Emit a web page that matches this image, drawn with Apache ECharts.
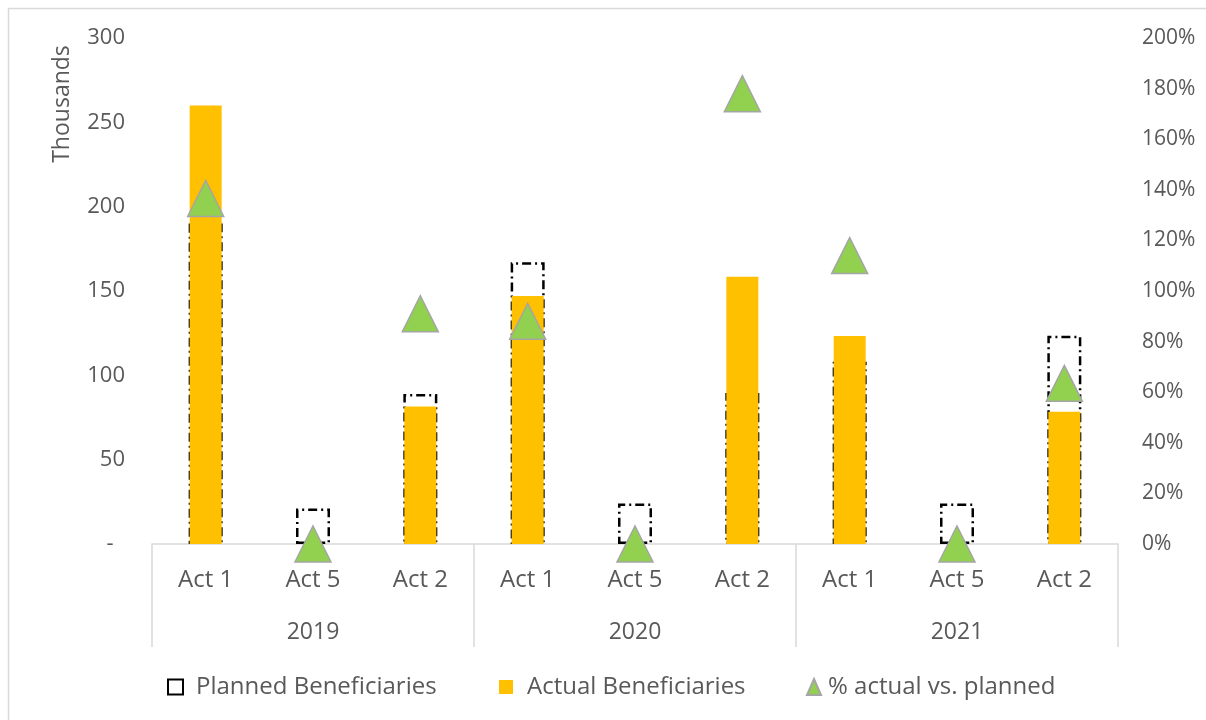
<!DOCTYPE html>
<html>
<head>
<meta charset="utf-8">
<title>Beneficiaries by activity</title>
<script src="https://cdn.jsdelivr.net/npm/echarts@6/dist/echarts.min.js"></script>
<style>
  html, body { margin: 0; padding: 0; background: #ffffff; }
  #chart { width: 1206px; height: 720px; }
</style>
</head>
<body>
<div id="chart"></div>
<script>
// Activities per year (inner axis level) and years (outer axis level)
const activities = ['Act 1', 'Act 5', 'Act 2', 'Act 1', 'Act 5', 'Act 2', 'Act 1', 'Act 5', 'Act 2'];
const years = ['2019', '2020', '2021'];

// Beneficiaries, in thousands
const planned = [190, 21, 89, 167, 24, 89.5, 108, 24, 123.5];
const actual = [260, 0, 81.5, 147, 0, 158.5, 123.3, 0, 78.4];

// Actual as a share of planned, in percent
const pctActualVsPlanned = [136.6, 0, 91, 88, 0, 178, 114, 0, 63.5];

// Axis ticks
const leftTicks = { min: 0, max: 300, step: 50 };
const rightTicks = { min: 0, max: 200, step: 20 };

const FONT = '"Open Sans", "Noto Sans", sans-serif';
const TEXT = '#595959';
const RULE = '#D9D9D9';

const chart = echarts.init(document.getElementById('chart'), null, { renderer: 'canvas' });

const dashDot = [9, 4, 2, 4];

chart.setOption({
  backgroundColor: '#ffffff',
  animation: false,
  textStyle: { fontFamily: FONT, color: TEXT },
  grid: { left: 152, right: 88, top: 38, bottom: 176, outerBoundsMode: 'none' },
  graphic: [
    {
      type: 'rect',
      shape: { x: 8.5, y: 8.5, width: 1300, height: 800 },
      style: { fill: 'none', stroke: RULE, lineWidth: 1.5 },
      silent: true
    },
    {
      type: 'text',
      x: 62, y: 104,
      rotation: Math.PI / 2,
      style: {
        text: 'Thousands', fill: TEXT, font: '23px ' + FONT,
        align: 'center', verticalAlign: 'middle'
      }
    }
  ],
  legend: [
    {
      left: 167, top: 675, padding: 0, itemWidth: 15, itemHeight: 15,
      data: [{ name: 'Planned Beneficiaries', icon: 'rect' }],
      textStyle: { fontFamily: FONT, fontSize: 24, color: TEXT, padding: [0, 0, 0, 8] }
    },
    {
      left: 499, top: 675, padding: 0, itemWidth: 14, itemHeight: 14,
      data: [{ name: 'Actual Beneficiaries', icon: 'rect' }],
      textStyle: { fontFamily: FONT, fontSize: 24, color: TEXT, padding: [0, 0, 0, 9] }
    },
    {
      left: 806, top: 675, padding: 0, itemWidth: 14, itemHeight: 16,
      data: [{ name: '% actual vs. planned', icon: 'triangle' }],
      textStyle: { fontFamily: FONT, fontSize: 24, color: TEXT, padding: [0, 0, 0, 2] }
    }
  ],
  xAxis: [
    {
      type: 'category',
      data: activities,
      position: 'bottom',
      axisLine: { show: true, lineStyle: { color: RULE, width: 1.5 } },
      axisTick: { show: false },
      axisLabel: { margin: 24, fontFamily: FONT, fontSize: 24, color: TEXT, interval: 0 },
      splitLine: { show: false }
    },
    {
      type: 'category',
      data: years,
      position: 'bottom',
      axisLine: { show: false, onZero: false },
      axisTick: { show: true, length: 103, interval: 0, lineStyle: { color: RULE, width: 1.5 } },
      axisLabel: { margin: 77, fontFamily: FONT, fontSize: 23, color: TEXT, interval: 0 },
      splitLine: { show: false }
    },
    {
      // carries the planned outlines so they centre on each category on their own
      type: 'category',
      data: activities,
      show: false
    }
  ],
  yAxis: [
    {
      type: 'value',
      min: leftTicks.min, max: leftTicks.max, interval: leftTicks.step,
      position: 'left',
      axisLine: { show: false },
      axisTick: { show: false },
      splitLine: { show: false },
      axisLabel: {
        margin: 27, fontFamily: FONT, fontSize: 22, color: TEXT,
        formatter: v => (v === 0 ? '-  ' : String(v))
      }
    },
    {
      type: 'value',
      min: rightTicks.min, max: rightTicks.max, interval: rightTicks.step,
      position: 'right',
      axisLine: { show: false },
      axisTick: { show: false },
      splitLine: { show: false },
      axisLabel: {
        margin: 24, fontFamily: FONT, fontSize: 21, color: TEXT,
        formatter: '{value}%'
      }
    }
  ],
  series: [
    {
      name: 'Planned Beneficiaries',
      type: 'bar',
      xAxisIndex: 2, yAxisIndex: 0,
      data: planned,
      barWidth: 34,
      z: 2,
      itemStyle: {
        color: 'rgba(255,255,255,0)',
        borderColor: '#000000',
        borderWidth: 2.5,
        borderType: dashDot
      }
    },
    {
      name: 'Actual Beneficiaries',
      type: 'bar',
      xAxisIndex: 0, yAxisIndex: 0,
      data: actual,
      barWidth: 32,
      z: 3,
      itemStyle: { color: '#FFC000' }
    },
    {
      name: '% actual vs. planned',
      type: 'scatter',
      xAxisIndex: 0, yAxisIndex: 1,
      data: pctActualVsPlanned,
      symbol: 'triangle',
      symbolSize: 36,
      z: 5,
      itemStyle: { color: '#92D050', borderColor: '#A5A5A5', borderWidth: 1.5, opacity: 1 }
    }
  ]
});
</script>
</body>
</html>
